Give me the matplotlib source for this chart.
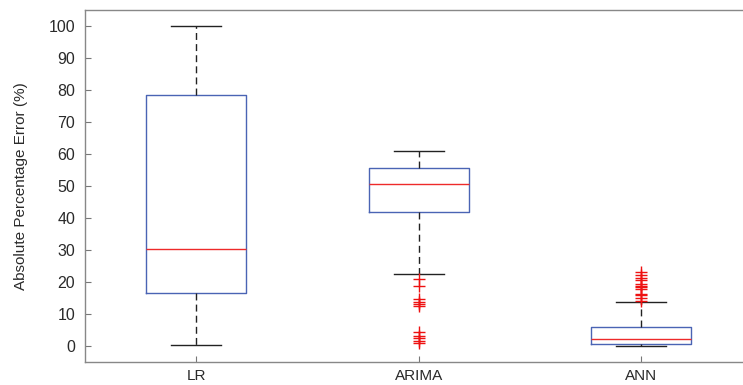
import matplotlib
matplotlib.use("Agg")
import matplotlib.pyplot as plt

categories = ["LR", "ARIMA", "ANN"]
whislo = [0.2, 22.5, 0.1]
q1 = [16.6, 42.0, 0.7]
med = [30.4, 50.5, 2.1]
q3 = [78.5, 55.5, 5.8]
whishi = [100.0, 61.0, 13.6]
fliers_lr = []
fliers_arima = [20.9, 18.6, 14.6, 13.9, 13.2, 12.4, 4.3, 3.0, 2.4, 1.6, 0.8]
fliers_ann = [23.1, 22.3, 21.1, 20.7, 19.3, 18.8, 18.3, 17.8, 16.4, 15.9, 14.9, 14.1]
yticks = [0, 10, 20, 30, 40, 50, 60, 70, 80, 90, 100]
ylabel = "Absolute Percentage Error (%)"

fliers = [fliers_lr, fliers_arima, fliers_ann]
stats = []
for i, c in enumerate(categories):
    stats.append(dict(label=c, whislo=whislo[i], q1=q1[i], med=med[i],
                      q3=q3[i], whishi=whishi[i], fliers=fliers[i]))

plt.rcParams['font.family'] = ['Liberation Sans', 'DejaVu Sans']
fig = plt.figure(figsize=(7.43, 3.85), dpi=100)
W, H = 743, 385
left, right_px = 85, 85 + 3 * 222.5
top, bottom = 10, 362
ax = fig.add_axes([left / W, (H - bottom) / H, (right_px - left) / W, (bottom - top) / H])

ax.bxp(stats, positions=[1, 2, 3], widths=0.45, showfliers=True,
       boxprops=dict(color="#4a64b4", linewidth=1.0),
       medianprops=dict(color="#ee2a2a", linewidth=1.0),
       whiskerprops=dict(color="#222222", linewidth=1.0, linestyle=(0, (5, 3))),
       capprops=dict(color="#222222", linewidth=1.0),
       flierprops=dict(marker="+", markeredgecolor="#ee1111", markersize=8,
                       markeredgewidth=1.0, linestyle="none"))

ax.set_xlim(0.5, 3.5)
ax.set_ylim(-5, 105)
ax.set_yticks(yticks)
ax.set_yticklabels([str(t) for t in yticks])
ax.tick_params(direction="in", length=4, colors="#777777", labelcolor="#2a2a2a",
               labelsize=11.5)
ax.tick_params(axis="y", pad=7)
ax.tick_params(axis="x", pad=5, labelsize=11)
ax.set_ylabel(ylabel, fontsize=11, color="#2a2a2a")
ax.yaxis.set_label_coords((28 - 85) / (right_px - left), 0.5)
for s in ["left", "bottom", "top"]:
    ax.spines[s].set_color("#888888")
    ax.spines[s].set_linewidth(1.0)
ax.spines["right"].set_visible(False)

fig.savefig("out.png", dpi=100)
